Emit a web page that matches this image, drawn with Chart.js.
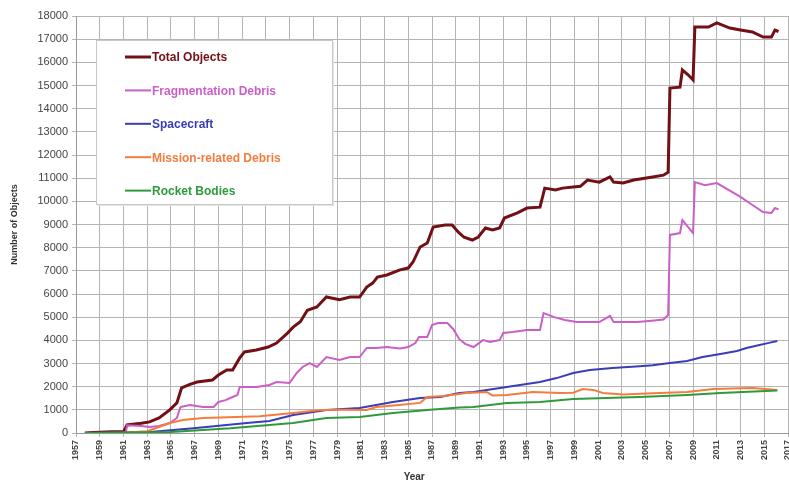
<!DOCTYPE html>
<html>
<head>
<meta charset="utf-8">
<script src="https://cdn.jsdelivr.net/npm/chart.js@4.4.1/dist/chart.umd.min.js"></script>
<style>
  html, body { margin: 0; padding: 0; background: #fff; }
  #grafica { display: block; }
</style>
</head>
<body>
<canvas id="grafica" width="789" height="482"></canvas>
<script>
// ── Data ───────────────────────────────────────────────────────
const yearTicks = [1957, 2017, 2];   // min, max, step of the year axis
const valueTicks = [0, 18000, 1000];

const seriesNames = ["Total Objects", "Fragmentation Debris", "Spacecraft", "Mission-related Debris", "Rocket Bodies"];
const seriesColors = ["#731016", "#cc5ec8", "#3a3db8", "#f47c3c", "#2f9a3c"];

const totalYears  = [1957.75, 1958.5, 1960, 1961.0, 1961.3, 1962.5, 1963.2, 1964.0, 1964.9, 1965.5, 1965.9, 1966.6, 1967.2, 1968.5, 1969.0, 1969.7, 1970.2, 1970.8, 1971.2, 1972.2, 1973.2, 1973.9, 1974.8, 1975.3, 1975.9, 1976.5, 1977.3, 1978.1, 1979.2, 1980.1, 1980.9, 1981.5, 1982.0, 1982.4, 1983.2, 1984.3, 1985.0, 1985.4, 1986.0, 1986.6, 1987.1, 1988.1, 1988.7, 1989.2, 1989.7, 1990.4, 1990.9, 1991.5, 1992.1, 1992.7, 1993.1, 1994.2, 1995.0, 1996.1, 1996.5, 1997.4, 1998.0, 1998.9, 1999.5, 2000.1, 2001.1, 2002.0, 2002.3, 2003.1, 2004.0, 2005.6, 2006.5, 2006.9, 2007.05, 2007.9, 2008.1, 2008.6, 2009.0, 2009.15, 2010.3, 2011.0, 2012.1, 2013.0, 2014.0, 2014.9, 2015.6, 2015.9, 2016.2];
const totalValues = [0, 20, 50, 50, 350, 420, 480, 650, 1000, 1300, 1950, 2100, 2200, 2290, 2500, 2720, 2720, 3240, 3500, 3580, 3710, 3880, 4300, 4570, 4800, 5300, 5440, 5870, 5750, 5870, 5870, 6300, 6470, 6730, 6820, 7040, 7120, 7380, 8030, 8200, 8890, 8980, 8980, 8680, 8450, 8330, 8460, 8850, 8760, 8850, 9280, 9500, 9710, 9750, 10570, 10490, 10570, 10620, 10650, 10920, 10830, 11050, 10830, 10790, 10920, 11050, 11130, 11260, 14890, 14930, 15670, 15450, 15240, 17520, 17520, 17700, 17480, 17400, 17310, 17090, 17090, 17390, 17330];

const fragYears  = [1957.75, 1961.2, 1961.3, 1962.5, 1963.2, 1964.0, 1964.9, 1965.5, 1965.8, 1966.6, 1967.7, 1968.6, 1969.0, 1969.6, 1970.0, 1970.6, 1970.8, 1972.2, 1973.3, 1973.9, 1975.0, 1975.6, 1976.1, 1976.7, 1977.3, 1978.1, 1979.2, 1980.1, 1980.9, 1981.5, 1982.3, 1983.2, 1984.3, 1985.0, 1985.6, 1985.9, 1986.6, 1987.0, 1987.5, 1988.3, 1988.8, 1989.3, 1989.8, 1990.5, 1991.3, 1991.9, 1992.7, 1993.0, 1993.8, 1995.0, 1996.1, 1996.4, 1997.3, 1998.2, 1999.2, 2000.3, 2001.1, 2002.0, 2002.3, 2003.4, 2004.3, 2005.5, 2006.5, 2006.9, 2007.05, 2007.9, 2008.1, 2009.0, 2009.15, 2010.0, 2011.0, 2013.0, 2014.0, 2014.9, 2015.6, 2015.9, 2016.2];
const fragValues = [0, 0, 330, 300, 260, 300, 430, 650, 1120, 1210, 1120, 1120, 1340, 1420, 1510, 1640, 1990, 1990, 2070, 2200, 2160, 2590, 2850, 3020, 2850, 3280, 3150, 3280, 3280, 3670, 3670, 3710, 3650, 3710, 3880, 4140, 4140, 4660, 4750, 4750, 4480, 4050, 3850, 3710, 4010, 3930, 4010, 4320, 4360, 4450, 4450, 5180, 5000, 4880, 4790, 4790, 4790, 5060, 4790, 4790, 4790, 4850, 4900, 5090, 8550, 8630, 9190, 8630, 10830, 10700, 10790, 10190, 9840, 9540, 9500, 9710, 9650];

const craftYears  = [1957.75, 1960, 1963, 1966.9, 1971.4, 1973.3, 1975.3, 1978.1, 1980.9, 1983.7, 1986.0, 1987.7, 1989.3, 1990.5, 1993.3, 1996.1, 1997.5, 1998.9, 2000.3, 2002.2, 2004.5, 2005.6, 2007.05, 2008.5, 2009.8, 2011.3, 2012.7, 2013.5, 2014.6, 2015.3, 2016.1];
const craftValues = [0, 10, 30, 200, 430, 520, 780, 990, 1080, 1340, 1510, 1550, 1730, 1770, 1990, 2200, 2370, 2590, 2720, 2810, 2880, 2920, 3020, 3110, 3280, 3410, 3540, 3670, 3800, 3880, 3970];

const missionYears  = [1957.75, 1961, 1963, 1964, 1964.9, 1966, 1967.7, 1970.5, 1972.5, 1975.3, 1977.6, 1979.5, 1981.5, 1982.3, 1984, 1986, 1986.6, 1988, 1989.9, 1991.6, 1992.1, 1993.3, 1995.5, 1997.8, 1998.9, 1999.7, 2000.6, 2001.4, 2003.1, 2005.6, 2008.5, 2010.7, 2014, 2016.1];
const missionValues = [0, 10, 80, 260, 430, 560, 650, 690, 720, 860, 990, 1000, 990, 1120, 1200, 1300, 1550, 1600, 1730, 1770, 1620, 1640, 1770, 1730, 1740, 1900, 1860, 1730, 1660, 1720, 1770, 1900, 1940, 1860];

const rocketYears  = [1957.75, 1960, 1964.9, 1967.7, 1970, 1973.3, 1975.3, 1978.1, 1980.9, 1983.7, 1986.6, 1989.3, 1990.5, 1993.3, 1996.1, 1998.9, 2001.7, 2004.5, 2008.5, 2011.3, 2016.1];
const rocketValues = [0, 20, 40, 130, 200, 350, 430, 650, 690, 860, 990, 1100, 1120, 1300, 1340, 1470, 1510, 1550, 1640, 1730, 1830];

// ── Helpers ───────────────────────────────────────────────────
function pares(xs, ys) {
  return xs.map((x, i) => ({ x, y: ys[i] }));
}

const allYears  = [totalYears, fragYears, craftYears, missionYears, rocketYears];
const allValues = [totalValues, fragValues, craftValues, missionValues, rocketValues];

const datasets = seriesNames.map((name, i) => ({
  label: name,
  data: pares(allYears[i], allValues[i]),
  borderColor: seriesColors[i],
  backgroundColor: seriesColors[i],
  borderWidth: i === 0 ? 3 : 2,
  pointRadius: 0,
  tension: 0,
  fill: false,
}));
// draw total last so it sits on top
const ordered = datasets.slice().reverse();

const FONT = "'Liberation Sans', Arial, sans-serif";

// ── Legend box inside the plot ─────────────────────────────────
const legendBox = {
  id: "legendBox",
  afterDraw(chart) {
    const { ctx, chartArea } = chart;
    const left = chartArea.left + 20, top = chartArea.top + 24;
    const w = 236, h = 164;
    ctx.save();
    ctx.fillStyle = "#e4e4e4";
    ctx.fillRect(left + 2, top + 2, w, h);
    ctx.fillStyle = "#fff";
    ctx.strokeStyle = "#c8c8c8";
    ctx.lineWidth = 1;
    ctx.fillRect(left, top, w, h);
    ctx.strokeRect(left + 0.5, top + 0.5, w, h);
    ctx.font = "bold 12px " + FONT;
    ctx.textBaseline = "middle";
    seriesNames.forEach((name, i) => {
      const y = top + 17 + i * 33.4;
      ctx.strokeStyle = seriesColors[i];
      ctx.lineWidth = i === 0 ? 3 : 2;
      ctx.beginPath();
      ctx.moveTo(left + 29, y);
      ctx.lineTo(left + 55, y);
      ctx.stroke();
      ctx.fillStyle = seriesColors[i];
      ctx.fillText(name, left + 56, y + 1);
    });
    // x axis title
    ctx.fillStyle = "#333";
    ctx.font = "bold 10px " + FONT;
    ctx.textAlign = "center";
    ctx.fillText("Year", chart.scales.x.getPixelForValue(1985.5), 477);
    ctx.restore();
  }
};

new Chart(document.getElementById("grafica"), {
  type: "line",
  data: { datasets: ordered },
  plugins: [legendBox],
  options: {
    responsive: false,
    animation: false,
    layout: { padding: { top: 16, right: 1, left: 0, bottom: 0 } },
    plugins: { legend: { display: false }, tooltip: { enabled: false } },
    scales: {
      x: {
        type: "linear",
        min: yearTicks[0], max: yearTicks[1],
        afterFit: (s) => { s.height = 49; s.paddingRight = 0; s.paddingLeft = 0; },
        ticks: {
          stepSize: yearTicks[2],
          minRotation: 90, maxRotation: 90,
          color: "#444",
          font: { family: FONT, size: 9, weight: "bold" },
          callback: (v) => String(v),
          padding: 3,
        },
        grid: { color: "#b4b4b4", lineWidth: 1, tickLength: 4 },
        border: { color: "#999" },
      },
      y: {
        min: valueTicks[0], max: valueTicks[1],
        afterFit: (s) => { s.width = 76; s.paddingTop = 0; s.paddingBottom = 0; },
        ticks: {
          stepSize: valueTicks[2],
          color: "#444",
          font: { family: FONT, size: 11 },
          callback: (v) => String(v),
          padding: 4,
        },
        title: {
          display: true,
          text: "Number of Objects",
          color: "#333",
          font: { family: FONT, size: 9, weight: "bold" },
          padding: { top: 9, bottom: 0 },
        },
        grid: { color: "#b4b4b4", lineWidth: 1, tickLength: 4 },
        border: { color: "#999" },
      }
    }
  }
});
</script>
</body>
</html>
